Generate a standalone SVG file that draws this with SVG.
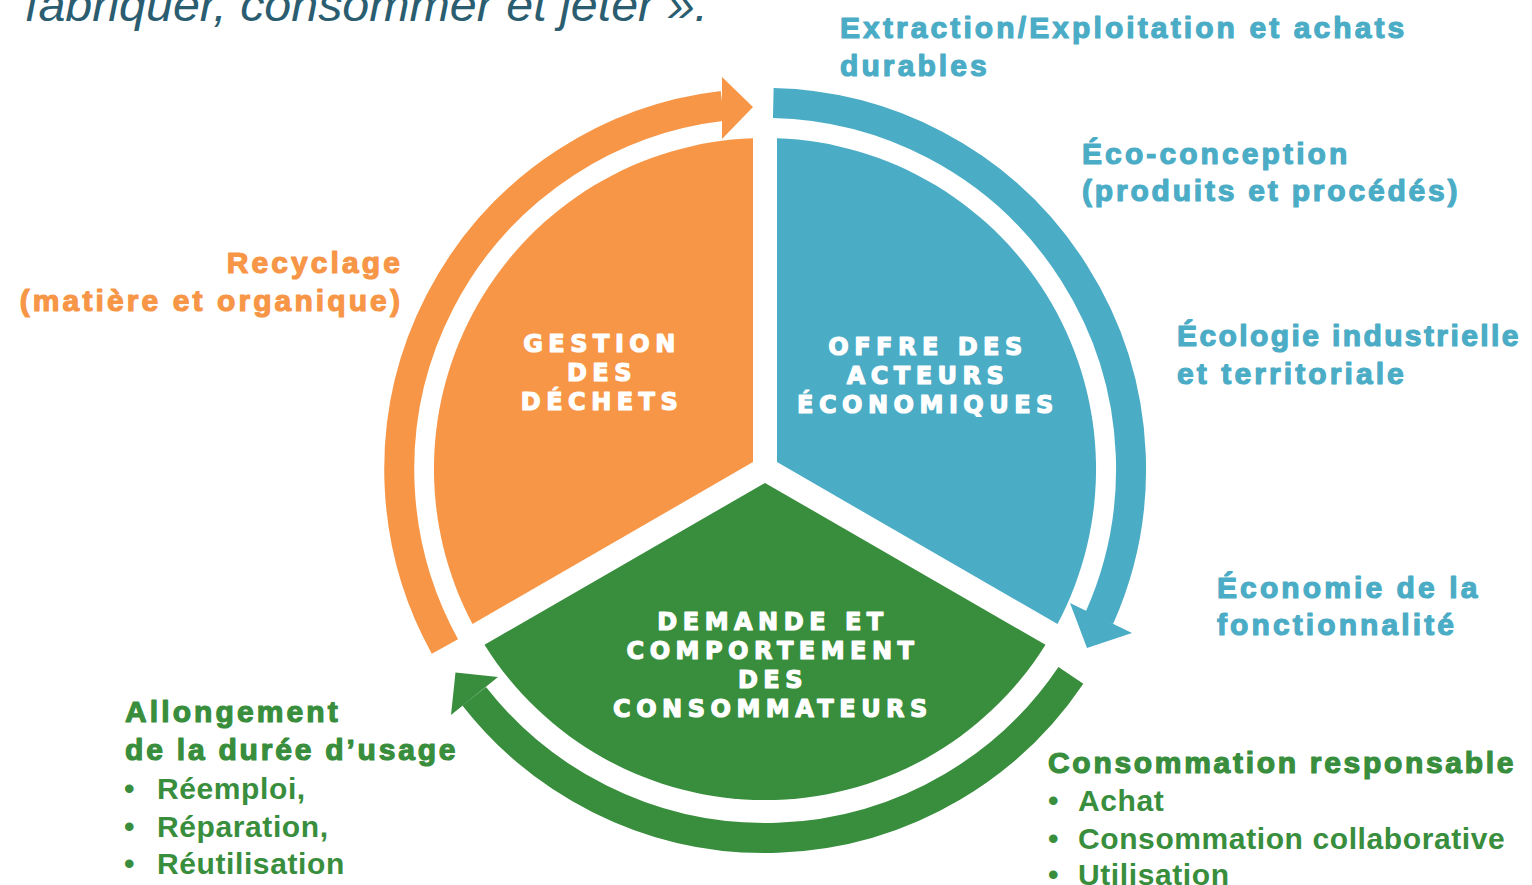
<svg xmlns="http://www.w3.org/2000/svg" width="1532" height="885" viewBox="0 0 1532 885">
<style>
.lbl{font-family:"Liberation Sans",Arial,sans-serif;font-weight:bold;font-size:30px;letter-spacing:3.1px;stroke-width:1.2px;stroke-linejoin:round}
.item{font-family:"Liberation Sans",Arial,sans-serif;font-weight:bold;font-size:30px;letter-spacing:0.6px}
.blue{fill:#4bacc6;stroke:#4bacc6}
.orange{fill:#f79646;stroke:#f79646}
.green{fill:#388e3c;stroke:#388e3c}
.gi{fill:#388e3c}
.ctr{font-family:"DejaVu Sans",sans-serif;font-weight:bold;font-size:24px;letter-spacing:5.5px;fill:#ffffff;stroke:#ffffff;stroke-width:1.2px;stroke-linejoin:round;text-anchor:middle}
.ring{fill:none;stroke-width:30}
</style>
<rect width="1532" height="885" fill="#ffffff"/>
<text x="25" y="21" font-family="Liberation Sans, Arial, sans-serif" font-style="italic" font-size="46" fill="#2a5d70" textLength="683" lengthAdjust="spacingAndGlyphs">fabriquer, consommer et jeter ».</text>

<g id="connectors">
  <g id="arrow-orange">
    <path class="ring" stroke="#f79646" d="M 444.9 646.4 A 366 366 0 0 1 722.5 105.9"/>
    <polygon fill="#f79646" points="722,77 753,107 722,139"/>
  </g>
  <g id="arrow-blue">
    <path class="ring" stroke="#4bacc6" d="M 773.3 103.1 A 366 366 0 0 1 1099.4 617.9"/>
    <polygon fill="#4bacc6" points="1070,603 1132,633 1087,648"/>
  </g>
  <g id="arrow-green">
    <path class="ring" stroke="#388e3c" d="M 1070.9 675.3 A 369 369 0 0 1 474.2 696.2"/>
    <polygon fill="#388e3c" points="498,677 451,715 455.5,672.5"/>
  </g>
</g>

<g id="node-gestion">
  <path fill="#f79646" d="M 753 462.1 L 753 138.2 A 331 331 0 0 0 472.5 624 Z"/>
  <text class="ctr" x="602" y="352">GESTION</text>
  <text class="ctr" x="602" y="381">DES</text>
  <text class="ctr" x="602" y="410">DÉCHETS</text>
</g>

<g id="node-offre">
  <path fill="#4bacc6" d="M 777 462.1 L 777 138.2 A 331 331 0 0 1 1057.5 624 Z"/>
  <text class="ctr" x="928" y="355">OFFRE DES</text>
  <text class="ctr" x="928" y="384">ACTEURS</text>
  <text class="ctr" x="928" y="413">ÉCONOMIQUES</text>
</g>

<g id="node-demande">
  <path fill="#388e3c" d="M 765 482.9 L 1045.5 644.8 A 331 331 0 0 1 484.5 644.8 Z"/>
  <text class="ctr" x="773" y="630">DEMANDE ET</text>
  <text class="ctr" x="773" y="659">COMPORTEMENT</text>
  <text class="ctr" x="773" y="688">DES</text>
  <text class="ctr" x="773" y="717">CONSOMMATEURS</text>
</g>

<g id="label-extraction">
  <text class="lbl blue" x="840" y="38">Extraction/Exploitation et achats</text>
  <text class="lbl blue" x="840" y="76">durables</text>
</g>
<g id="label-eco-conception">
  <text class="lbl blue" x="1082" y="164">Éco-conception</text>
  <text class="lbl blue" x="1082" y="201" style="letter-spacing:2.8px">(produits et procédés)</text>
</g>
<g id="label-ecologie">
  <text class="lbl blue" x="1177" y="346" style="letter-spacing:2.4px">Écologie industrielle</text>
  <text class="lbl blue" x="1177" y="384">et territoriale</text>
</g>
<g id="label-economie">
  <text class="lbl blue" x="1217" y="598">Économie de la</text>
  <text class="lbl blue" x="1217" y="635">fonctionnalité</text>
</g>
<g id="label-recyclage">
  <text class="lbl orange" x="403" y="273" text-anchor="end">Recyclage</text>
  <text class="lbl orange" x="403" y="311" text-anchor="end">(matière et organique)</text>
</g>
<g id="label-allongement">
  <text class="lbl green" x="125" y="722">Allongement</text>
  <text class="lbl green" x="125" y="760" style="letter-spacing:2.8px">de la durée d’usage</text>
  <text class="item gi" x="124" y="799">•</text>
  <text class="item gi" x="157" y="799">Réemploi,</text>
  <text class="item gi" x="124" y="837">•</text>
  <text class="item gi" x="157" y="837">Réparation,</text>
  <text class="item gi" x="124" y="874">•</text>
  <text class="item gi" x="157" y="874">Réutilisation</text>
</g>
<g id="label-consommation">
  <text class="lbl green" x="1048" y="773" style="letter-spacing:2.7px">Consommation responsable</text>
  <text class="item gi" x="1048" y="811">•</text>
  <text class="item gi" x="1078" y="811">Achat</text>
  <text class="item gi" x="1048" y="849">•</text>
  <text class="item gi" x="1078" y="849">Consommation collaborative</text>
  <text class="item gi" x="1048" y="885">•</text>
  <text class="item gi" x="1078" y="885">Utilisation</text>
</g>
</svg>
